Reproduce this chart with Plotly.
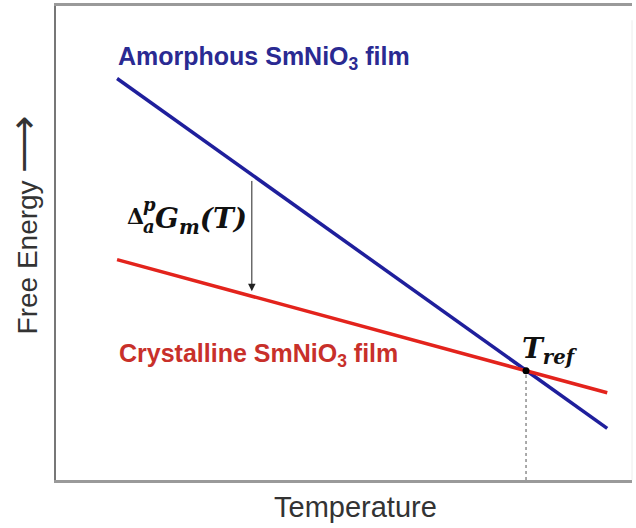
import numpy as np
import plotly.graph_objects as go

# schematic units: temperature 0..10, free energy 0..10
amorphous_T = [1.06, 9.57]
amorphous_G = [8.47, 1.09]
crystalline_T = [1.06, 9.57]
crystalline_G = [4.65, 1.84]
t_ref = 8.16
delta_T = 3.40

BLUE = "#1f1f9c"
RED = "#e3231c"

g_ref = float(np.interp(t_ref, crystalline_T, crystalline_G))
g_top = float(np.interp(delta_T, amorphous_T, amorphous_G))
g_bot = float(np.interp(delta_T, crystalline_T, crystalline_G))

fig = go.Figure()
fig.add_trace(go.Scatter(x=[t_ref, t_ref], y=[0, g_ref], mode="lines",
                         line=dict(color="#555555", width=1, dash="dot"), hoverinfo="skip"))
fig.add_trace(go.Scatter(x=amorphous_T, y=amorphous_G, mode="lines",
                         line=dict(color=BLUE, width=3.5), name="Amorphous"))
fig.add_trace(go.Scatter(x=crystalline_T, y=crystalline_G, mode="lines",
                         line=dict(color=RED, width=3.5), name="Crystalline"))
fig.add_trace(go.Scatter(x=[t_ref], y=[g_ref], mode="markers",
                         marker=dict(color="black", size=7), hoverinfo="skip"))

sans = "Liberation Sans, Arial, sans-serif"
serif = "DejaVu Serif, serif"

# difference arrow
fig.add_annotation(x=delta_T, y=g_bot, ax=delta_T, ay=g_top - 0.1, xref="x", yref="y",
                   axref="x", ayref="y", showarrow=True, arrowhead=2, arrowsize=1.5,
                   arrowwidth=1, arrowcolor="#222222", standoff=5, text="")

labels = [
    dict(x=1.04, y=8.91, text="<b>Amorphous SmNiO<sub>3</sub> film</b>",
         font=dict(family=sans, size=25, color="#2a2a92")),
    dict(x=1.06, y=2.64, text="<b>Crystalline SmNiO<sub>3</sub> film</b>",
         font=dict(family=sans, size=25, color="#c8302a")),
    dict(x=8.06, y=2.73, text="<b><i>T<sub>ref</sub></i></b>",
         font=dict(family=serif, size=28, color="#111111")),
    dict(x=1.20, y=5.56, text="<b>Δ</b>",
         font=dict(family=serif, size=22, color="#111111")),
    dict(x=1.48, y=5.81, text="<b><i>p</i></b>",
         font=dict(family=serif, size=18, color="#111111")),
    dict(x=1.48, y=5.35, text="<b><i>a</i></b>",
         font=dict(family=serif, size=18, color="#111111")),
    dict(x=1.68, y=5.48, text="<b><i>G<sub>m</sub>(T)</i></b>",
         font=dict(family=serif, size=28, color="#111111")),
]
for lab in labels:
    fig.add_annotation(xref="x", yref="y", xanchor="left", yanchor="middle",
                       showarrow=False, **lab)

fig.add_annotation(xref="paper", yref="paper", x=0.52, y=0, yshift=-27,
                   xanchor="center", yanchor="middle", showarrow=False,
                   text="Temperature", font=dict(family=sans, size=29, color="#333333"))
fig.add_annotation(xref="paper", yref="paper", x=0, y=0.537, xshift=-33,
                   xanchor="center", yanchor="middle", showarrow=False, textangle=-90,
                   text="Free Energy <span style='font-size:40px'>⟶</span>",
                   font=dict(family=sans, size=28, color="#333333"))

fig.update_xaxes(range=[0, 10], showgrid=False, zeroline=False, showticklabels=False,
                 ticks="", showline=True, linecolor="#9a9a9a", linewidth=2.5, mirror=True)
fig.update_yaxes(range=[0, 10], showgrid=False, zeroline=False, showticklabels=False,
                 ticks="", showline=True, linecolor="#777777", linewidth=2)
fig.add_shape(type="line", xref="paper", yref="paper", x0=1, x1=1, y0=0, y1=0.97,
              line=dict(color="#ececec", width=1))
fig.update_layout(width=636, height=528, margin=dict(l=56, r=4, t=3, b=48),
                  plot_bgcolor="white", paper_bgcolor="white", showlegend=False)

fig.write_html("out.html", config={"displayModeBar": False},
               post_script="document.body.style.margin='0';")
